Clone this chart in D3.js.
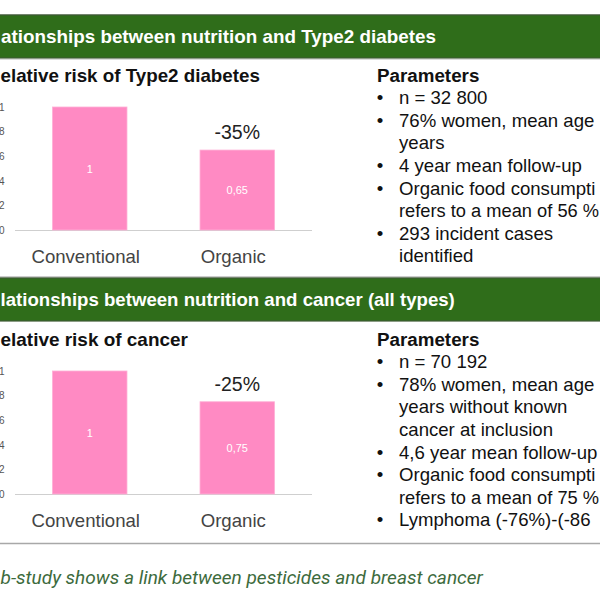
<!DOCTYPE html>
<html>
<head>
<meta charset="utf-8">
<script src="https://cdn.jsdelivr.net/npm/d3@7"></script>
<style>
  html, body { margin: 0; padding: 0; background: #fff; overflow: hidden; }
  svg { display: block; }
</style>
</head>
<body>
<script>
// ---------- data (text as visible in the cropped slide) ----------
const categories = ["Conventional", "Organic"];
const diabetesRisk = [1, 0.65];
const cancerRisk = [1, 0.75];
const diabetesValueLabels = ["1", "0,65"];
const cancerValueLabels = ["1", "0,75"];
const diabetesReduction = "-35%";
const cancerReduction = "-25%";
const yTicks = [0, 0.2, 0.4, 0.6, 0.8, 1];
const yTickLabels = ["0", "2", "4", "6", "8", "1"];   // visible part of 0 / 0,2 / ... / 1

const headerTitles = [
  "ationships between nutrition and Type2 diabetes",
  "lationships between nutrition and cancer (all types)"
];
const chartTitles = ["elative risk of Type2 diabetes", "elative risk of cancer"];

const diabetesParams = [
  ["n = 32 800"],
  ["76% women, mean age", "years"],
  ["4 year mean follow-up"],
  ["Organic food consumpti", "refers to a mean of 56 %"],
  ["293 incident cases", "identified"]
];
const cancerParams = [
  ["n = 70 192"],
  ["78% women, mean age", "years without known", "cancer at inclusion"],
  ["4,6 year mean follow-up"],
  ["Organic food consumpti", "refers to a mean of 75 %"],
  ["Lymphoma (-76%)-(-86"]
];
const footerText = "b-study shows a link between pesticides and breast cancer";

// ---------- drawing ----------
const W = 600, H = 600;
const svg = d3.select("body").append("svg").attr("width", W).attr("height", H);
const FONT = "'Liberation Sans', Arial, Helvetica, sans-serif";

// stretch a text's font size so it spans x0..x1
function fitText(t, x0, x1) {
  t.attr("x", x0).attr("text-anchor", "start");
  const fs = +t.attr("font-size");
  const w = t.node().getComputedTextLength();
  if (w > 0) t.attr("font-size", fs * (x1 - x0) / w);
}

svg.append("line").attr("x1", 0).attr("x2", W).attr("y1", 14.5).attr("y2", 14.5)
  .attr("stroke", "#c4c4c4").attr("stroke-width", 1);

function header(y0, h, title, x0, x1) {
  svg.append("rect").attr("x", -2).attr("y", y0).attr("width", W + 4).attr("height", h)
    .attr("fill", "#2f6d1a").attr("stroke", "#3e5a34").attr("stroke-width", 1.2);
  const t = svg.append("text").attr("y", y0 + h / 2 + 6.5)
    .attr("font-family", FONT).attr("font-weight", "bold")
    .attr("font-size", 18.6).attr("fill", "#ffffff").text(title);
  fitText(t, x0, x1);
}

function section(cfg) {
  const { top, title, titleEnd, values, valueLabels, reduction, params } = cfg;
  const base = top + 155;
  const y = d3.scaleLinear().domain([0, 1]).range([base, base - 123]);
  const x = d3.scaleBand().domain(categories).range([15, 312])
    .paddingInner(0.495).paddingOuter(0.254);

  const tt = svg.append("text").attr("y", top + 6.5)
    .attr("font-family", FONT).attr("font-weight", "bold").attr("font-size", 18.6)
    .attr("fill", "#111").text(title);
  fitText(tt, 0.5, titleEnd);

  const ax = svg.append("g").attr("transform", `translate(4.5,0)`)
    .call(d3.axisLeft(y).tickValues(yTicks).tickSize(0).tickPadding(0)
      .tickFormat((d, i) => yTickLabels[i]));
  ax.select(".domain").remove();
  ax.selectAll("text").attr("font-family", FONT).attr("font-size", 10).attr("fill", "#555");

  svg.append("line").attr("x1", x.range()[0]).attr("x2", x.range()[1])
    .attr("y1", base + 0.5).attr("y2", base + 0.5).attr("stroke", "#cfcfcf");

  const data = categories.map((c, i) => ({ c, v: values[i], l: valueLabels[i] }));

  svg.selectAll(null).data(data).enter().append("rect")
    .attr("x", d => x(d.c)).attr("width", x.bandwidth())
    .attr("y", d => y(d.v)).attr("height", d => y(0) - y(d.v))
    .attr("fill", "#ff8ac3").attr("stroke", "#ffb0d6").attr("stroke-width", 0.8);

  svg.selectAll(null).data(data).enter().append("text")
    .attr("x", d => x(d.c) + x.bandwidth() / 2)
    .attr("y", d => (y(d.v) + y(0)) / 2 + 4)
    .attr("text-anchor", "middle").attr("font-family", FONT).attr("font-size", 11)
    .attr("fill", "#ffffff").text(d => d.l);

  svg.selectAll(null).data(categories).enter().append("text")
    .attr("x", d => x(d) + x.bandwidth() / 2 - 4)
    .attr("y", base + 33)
    .attr("text-anchor", "middle").attr("font-family", FONT).attr("font-size", 18.6)
    .attr("fill", "#444").text(d => d);

  const org = categories[1];
  svg.append("text").attr("x", x(org) + x.bandwidth() / 2)
    .attr("y", y(values[1]) - 11)
    .attr("text-anchor", "middle").attr("font-family", FONT).attr("font-size", 19.5)
    .attr("fill", "#222").text(reduction);

  svg.append("text").attr("x", 377).attr("y", top + 6.5)
    .attr("font-family", FONT).attr("font-weight", "bold").attr("font-size", 18.8)
    .attr("fill", "#111").text("Parameters");
  let line = 1;
  const lh = 22.6;
  params.forEach(item => {
    item.forEach((t, j) => {
      const yy = top + 6.5 + line * lh;
      if (j === 0) {
        svg.append("text").attr("x", 380).attr("y", yy).attr("text-anchor", "middle")
          .attr("font-family", FONT).attr("font-size", 18.6).attr("fill", "#111").text("•");
      }
      const pt = svg.append("text").attr("x", 399).attr("y", yy)
        .attr("font-family", FONT).attr("font-size", 18.6).attr("fill", "#111").text(t);
      // keep the line inside the frame
      if (399 + pt.node().getComputedTextLength() > 599) fitText(pt, 399, 599);
      line++;
    });
  });
}

header(15, 43, headerTitles[0], 1, 436);
svg.append("line").attr("x1", 0).attr("x2", W).attr("y1", 59.5).attr("y2", 59.5)
  .attr("stroke", "#dcdcdc");

section({
  top: 75, title: chartTitles[0], titleEnd: 260, values: diabetesRisk,
  valueLabels: diabetesValueLabels, reduction: diabetesReduction, params: diabetesParams
});

svg.append("line").attr("x1", 0).attr("x2", W).attr("y1", 277).attr("y2", 277)
  .attr("stroke", "#9a9a9a").attr("stroke-width", 1.2);
header(278, 43, headerTitles[1], 0.5, 455);

section({
  top: 339, title: chartTitles[1], titleEnd: 188, values: cancerRisk,
  valueLabels: cancerValueLabels, reduction: cancerReduction, params: cancerParams
});

svg.append("line").attr("x1", 0).attr("x2", W).attr("y1", 543.5).attr("y2", 543.5)
  .attr("stroke", "#a8a8a8").attr("stroke-width", 1.5);

const ft = svg.append("text").attr("y", 584)
  .attr("font-family", "Roboto, 'Open Sans', sans-serif").attr("font-style", "italic")
  .attr("font-size", 16.5).attr("fill", "#3d6b3d").text(footerText);
fitText(ft, 0.5, 483);
</script>
</body>
</html>
